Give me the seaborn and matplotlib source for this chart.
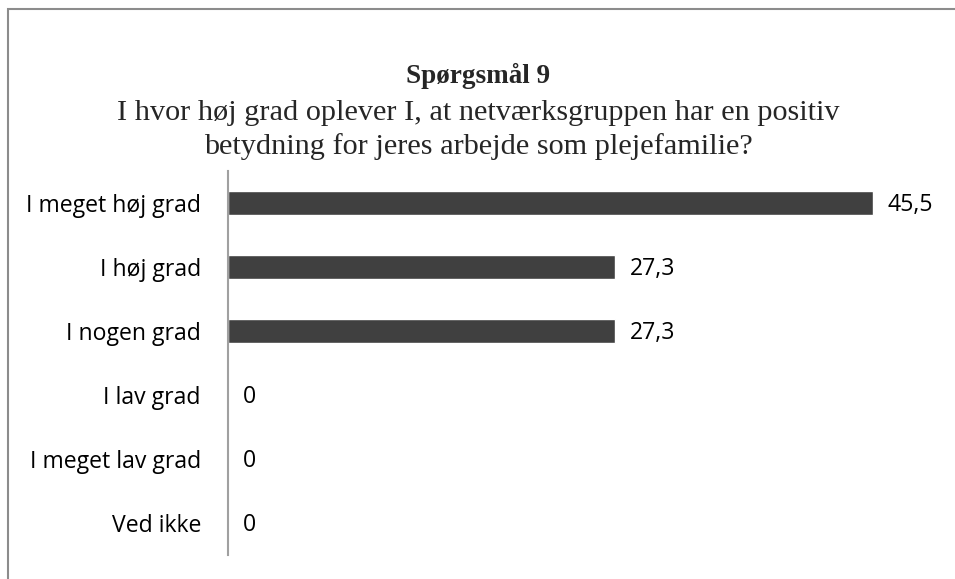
import matplotlib
matplotlib.use("Agg")
import matplotlib.pyplot as plt
import seaborn as sns
import pandas as pd
from matplotlib.patches import Rectangle

categories = ["I meget høj grad", "I høj grad", "I nogen grad", "I lav grad", "I meget lav grad", "Ved ikke"]
values = [45.5, 27.3, 27.3, 0, 0, 0]
value_labels = ["45,5", "27,3", "27,3", "0", "0", "0"]
title = "Spørgsmål 9"
subtitle = "I hvor høj grad oplever I, at netværksgruppen har en positiv\nbetydning for jeres arbejde som plejefamilie?"

sns.set_theme(style="white")
plt.rcParams["font.family"] = ["Open Sans", "DejaVu Sans"]

df = pd.DataFrame({"cat": categories, "val": values})

fig = plt.figure(figsize=(9.55, 5.79), dpi=100)
ax = fig.add_axes([228 / 955, 24 / 579, 709 / 955, 384 / 579])
sns.barplot(data=df, y="cat", x="val", ax=ax, color="#404040", width=0.39,
            saturation=1, orient="h")
ax.set_xlim(0, 50)
ax.set_ylim(5.5, -0.5)
ax.set_xlabel("")
ax.set_ylabel("")
ax.set_xticks([])
for s in ["top", "right", "bottom"]:
    ax.spines[s].set_visible(False)
ax.spines["left"].set_color("#a0a0a0")
ax.spines["left"].set_linewidth(1.5)
ax.tick_params(axis="y", length=0, pad=19.5, labelsize=16.6, labelcolor="black")

for i, (v, lab) in enumerate(zip(values, value_labels)):
    ax.annotate(lab, xy=(v, i), xytext=(10.5, -1.5), textcoords="offset points",
                va="center", ha="left", fontsize=16.6, color="black")

fig.text(478 / 955, 1 - 76 / 579, title, ha="center", va="center",
         fontsize=19.5, fontweight="bold", family=["Liberation Serif"])
fig.text(478 / 955, 1 - 130 / 579, subtitle, ha="center", va="center",
         fontsize=21.8, family=["Liberation Serif"], linespacing=1.33)

# outer chart border (cropped at right/bottom)
fig.patches.append(Rectangle((8 / 955, -0.1), 1.2, (579 - 9) / 579 + 0.1,
                             transform=fig.transFigure, fill=False,
                             edgecolor="#8c8c8c", linewidth=1.5))

fig.savefig("out.png", dpi=100)
